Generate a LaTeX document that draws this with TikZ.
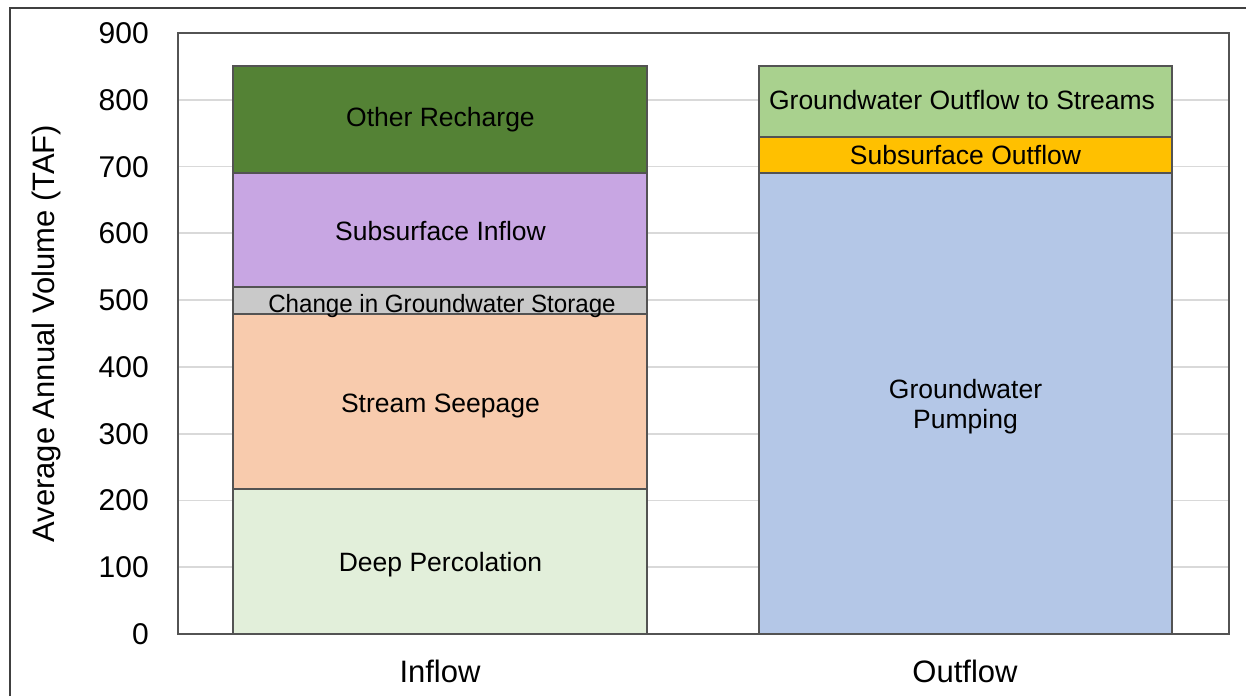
\documentclass[tikz,border=0pt]{standalone}
\usepackage{fontspec}
\setmainfont{Liberation Sans}

% bar fills
\definecolor{recharge}{HTML}{548235}
\definecolor{subin}{HTML}{C8A6E3}
\definecolor{storage}{HTML}{C9C9C9}
\definecolor{seepage}{HTML}{F8CBAD}
\definecolor{deepperc}{HTML}{E2EFDA}
\definecolor{tostreams}{HTML}{A9D18E}
\definecolor{subout}{HTML}{FFC000}
\definecolor{pumping}{HTML}{B4C7E7}
% lines
\definecolor{edge}{HTML}{535353}
\definecolor{grid}{HTML}{D9D9D9}
\definecolor{frame}{HTML}{404040}

\tikzset{
  segbox/.style={draw=edge, line width=2pt},
  gridline/.style={draw=grid, line width=1.8pt},
  seglabel/.style={anchor=base, inner sep=0pt, font=\fontsize{26.5}{30}\selectfont},
  ticklabel/.style={anchor=base east, inner sep=0pt, font=\fontsize{30}{36}\selectfont},
  catlabel/.style={anchor=base, inner sep=0pt, font=\fontsize{31}{36}\selectfont},
  axistitle/.style={anchor=base, inner sep=0pt, rotate=90, font=\fontsize{31}{36}\selectfont}
}

\begin{document}
\begin{tikzpicture}[x=1pt, y=-1pt]
\useasboundingbox (0,0) rectangle (1246,696);
\fill[white] (0,0) rectangle (1246,696);

% outer frame (left and top edges)
\draw[frame, line width=2.2pt] (10,696) -- (10,8) -- (1246,8);

% chart in data units: origin at the zero line, 900 units = 601 px
\begin{scope}[shift={(0,634)}, y=0.66778pt]
  % horizontal grid
  \foreach \v in {100,200,...,800}
    \draw[gridline] (178,\v) -- (1229,\v);

  % Inflow stack
  \draw[segbox, fill=deepperc] (233,0)   rectangle (647,217);
  \draw[segbox, fill=seepage]  (233,217) rectangle (647,479);
  \draw[segbox, fill=storage]  (233,479) rectangle (647,520);
  \draw[segbox, fill=subin]    (233,520) rectangle (647,690);
  \draw[segbox, fill=recharge] (233,690) rectangle (647,850.5);

  % Outflow stack
  \draw[segbox, fill=pumping]   (759,0)   rectangle (1172,691);
  \draw[segbox, fill=subout]    (759,691) rectangle (1172,745);
  \draw[segbox, fill=tostreams] (759,745) rectangle (1172,850.5);

  % plot area border
  \draw[edge, line width=2pt] (178,0) rectangle (1229,900);
\end{scope}

% y tick labels
\foreach \v in {0,100,...,900}
  \node[ticklabel] (tick\v) at (149, {644.5-0.66778*\v}) {\v};

% axis title
\node[axistitle] (ytitle) at (54, 333.7) {Average Annual Volume (TAF)};

% segment labels, inflow
\node[seglabel] (lrecharge) at (440.5, 126.5) {Other Recharge};
\node[seglabel] (lsubin)    at (440.5, 240.5) {Subsurface Inflow};
\node[seglabel, font=\fontsize{25}{30}\selectfont] (lstorage) at (442, 312.5)
  {\scalebox{0.965}[1]{Change in Groundwater Storage}};
\node[seglabel] (lseepage)  at (440.5, 412.5) {Stream Seepage};
\node[seglabel] (ldeep)     at (440.5, 571.5) {Deep Percolation};

% segment labels, outflow
\node[seglabel] (lstreams) at (962, 109) {Groundwater Outflow to Streams};
\node[seglabel] (lsubout)  at (965.5, 164) {Subsurface Outflow};
\node[seglabel] (lpump1)   at (965.5, 398) {Groundwater};
\node[seglabel] (lpump2)   at (965.5, 428) {Pumping};

% category labels
\node[catlabel] (inflow)  at (440, 682.7) {Inflow};
\node[catlabel] (outflow) at (965, 682.7) {Outflow};
\end{tikzpicture}
\end{document}
